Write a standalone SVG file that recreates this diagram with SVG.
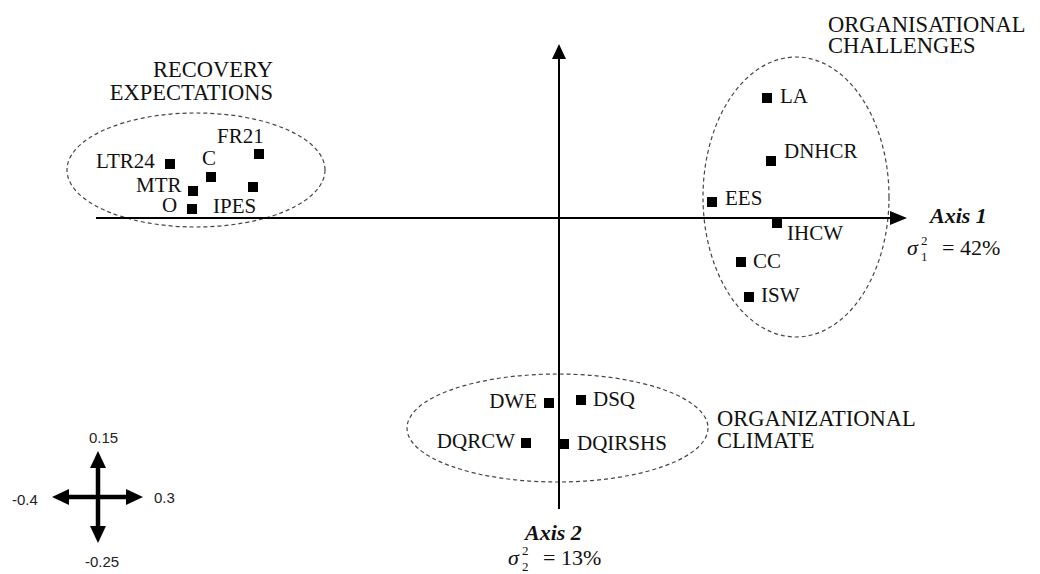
<svg xmlns="http://www.w3.org/2000/svg" width="1040" height="574" viewBox="0 0 1040 574">
<defs>
<style>
.t{font-family:'Liberation Serif','Times New Roman',serif;fill:#111;}
.lbl{font-size:21px;}
.grp{font-size:22.5px;}
.ax{font-size:22px;font-weight:bold;font-style:italic;}
.sig{font-size:22px;}
.sc{font-size:13px;}
.num{font-family:'Liberation Sans',Arial,sans-serif;font-size:15px;fill:#222;}
.m{fill:#000;}
.ell{fill:none;stroke:#444;stroke-width:1.2;stroke-dasharray:4 3;}
.axis{stroke:#000;stroke-width:2;fill:none;}
.cross{stroke:#000;stroke-width:4.5;fill:none;}
</style>
</defs>
<rect width="1040" height="574" fill="#fff"/>

<g id="clusters">
<ellipse class="ell" cx="196" cy="170" rx="129" ry="57"/>
<ellipse class="ell" cx="796" cy="197" rx="93" ry="140"/>
<ellipse class="ell" cx="557.5" cy="428" rx="150.5" ry="54"/>
</g>

<g id="connectors">
<line class="axis" x1="96" y1="218" x2="892" y2="218"/>
<polygon points="907,218 890,211 890,225" fill="#000"/>
<line class="axis" x1="559" y1="509" x2="559" y2="56"/>
<polygon points="559,44 552,59 566,59" fill="#000"/>
</g>

<g font-family="Liberation Serif, Times New Roman, serif">
<g id="axis1-label">
<text class="t ax" x="930" y="223">Axis 1</text>
<text class="t sig" x="907" y="255" font-style="italic">σ</text>
<text class="t sc" x="921" y="245">2</text>
<text class="t sc" x="921" y="261">1</text>
<text class="t sig" x="942" y="255">= 42%</text>
</g>
<g id="axis2-label">
<text class="t ax" x="525" y="540">Axis 2</text>
<text class="t sig" x="508" y="565" font-style="italic">σ</text>
<text class="t sc" x="522" y="555">2</text>
<text class="t sc" x="522" y="571">2</text>
<text class="t sig" x="543" y="565">= 13%</text>
</g>

<g id="recovery-expectations">
<text class="t grp" x="273" y="77" text-anchor="end">RECOVERY</text>
<text class="t grp" x="273" y="100" text-anchor="end">EXPECTATIONS</text>
</g>
<g id="organisational-challenges">
<text class="t grp" x="828" y="32">ORGANISATIONAL</text>
<text class="t grp" x="828" y="53">CHALLENGES</text>
</g>
<g id="organizational-climate">
<text class="t grp" x="717" y="426">ORGANIZATIONAL</text>
<text class="t grp" x="717" y="448">CLIMATE</text>
</g>

<g id="n-LTR24"><rect class="m" x="165" y="159" width="10" height="10"/><text class="t lbl" x="96" y="168">LTR24</text></g>
<g id="n-C"><rect class="m" x="206" y="172" width="10" height="10"/><text class="t lbl" x="202" y="165">C</text></g>
<g id="n-FR21"><rect class="m" x="254" y="149" width="10" height="10"/><text class="t lbl" x="217" y="143">FR21</text></g>
<g id="n-MTR"><rect class="m" x="188" y="186" width="10" height="10"/><text class="t lbl" x="136" y="192">MTR</text></g>
<g id="n-IPES"><rect class="m" x="248" y="182" width="10" height="10"/><text class="t lbl" x="213" y="213">IPES</text></g>
<g id="n-O"><rect class="m" x="187" y="204" width="10" height="10"/><text class="t lbl" x="162" y="212">O</text></g>

<g id="n-LA"><rect class="m" x="762" y="93" width="10" height="10"/><text class="t lbl" x="780" y="103">LA</text></g>
<g id="n-DNHCR"><rect class="m" x="766" y="156" width="10" height="10"/><text class="t lbl" x="784" y="158">DNHCR</text></g>
<g id="n-EES"><rect class="m" x="707" y="197" width="10" height="10"/><text class="t lbl" x="725" y="205">EES</text></g>
<g id="n-IHCW"><rect class="m" x="772" y="218" width="10" height="10"/><text class="t lbl" x="787" y="240">IHCW</text></g>
<g id="n-CC"><rect class="m" x="736" y="257" width="10" height="10"/><text class="t lbl" x="753" y="268">CC</text></g>
<g id="n-ISW"><rect class="m" x="744" y="292" width="10" height="10"/><text class="t lbl" x="761" y="302">ISW</text></g>

<g id="n-DWE"><rect class="m" x="544" y="398" width="10" height="10"/><text class="t lbl" x="537" y="408" text-anchor="end">DWE</text></g>
<g id="n-DSQ"><rect class="m" x="576" y="395" width="10" height="10"/><text class="t lbl" x="593" y="406">DSQ</text></g>
<g id="n-DQRCW"><rect class="m" x="521" y="438" width="10" height="10"/><text class="t lbl" x="515" y="448" text-anchor="end">DQRCW</text></g>
<g id="n-DQIRSHS"><rect class="m" x="559" y="439" width="10" height="10"/><text class="t lbl" x="577" y="450">DQIRSHS</text></g>
</g>

<g id="scale">
<line class="cross" x1="66" y1="497" x2="130" y2="497"/>
<line class="cross" x1="98" y1="466" x2="98" y2="528"/>
<polygon points="52,497 69,489 69,505" fill="#000"/>
<polygon points="143,497 126,489 126,505" fill="#000"/>
<polygon points="98,451 90,468 106,468" fill="#000"/>
<polygon points="98,543 90,526 106,526" fill="#000"/>
<text class="num" x="89" y="443">0.15</text>
<text class="num" x="154" y="503">0.3</text>
<text class="num" x="85" y="567">-0.25</text>
<text class="num" x="12" y="505">-0.4</text>
</g>
</svg>
